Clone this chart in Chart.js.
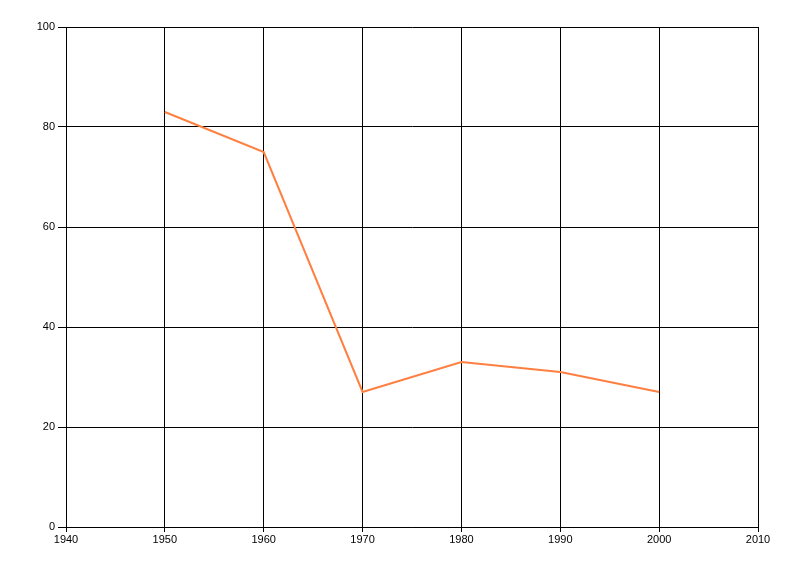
<!DOCTYPE html>
<html>
<head>
<meta charset="utf-8">
<script src="https://cdn.jsdelivr.net/npm/chart.js@4/dist/chart.umd.min.js"></script>
<style>
  html, body { margin: 0; padding: 0; background: #fff; }
  #wrap { width: 800px; height: 576px; }
</style>
</head>
<body>
<div id="wrap"><canvas id="chart" width="800" height="576"></canvas></div>
<script>
const years = [1950, 1960, 1970, 1980, 1990, 2000];
const values = [83, 75, 27, 33, 31, 27];
const xTicks = [1940, 1950, 1960, 1970, 1980, 1990, 2000, 2010];
const yTicks = [0, 20, 40, 60, 80, 100];

const points = years.map((y, i) => ({ x: y, y: values[i] }));

const tickFont = { family: "'Liberation Sans', Arial, sans-serif", size: 11 };

new Chart(document.getElementById("chart").getContext("2d"), {
  type: "line",
  data: {
    datasets: [{
      data: points,
      borderColor: "#ff7f40",
      borderWidth: 2,
      pointRadius: 0,
      tension: 0,
      fill: false
    }]
  },
  options: {
    responsive: false,
    animation: false,
    layout: { padding: { top: 27, right: 42, left: 0, bottom: 0 } },
    plugins: { legend: { display: false }, tooltip: { enabled: false } },
    scales: {
      x: {
        type: "linear",
        min: xTicks[0],
        max: xTicks[xTicks.length - 1],
        afterBuildTicks: axis => { axis.ticks = xTicks.map(v => ({ value: v })); },
        afterFit: axis => { axis.height = 49; },
        ticks: { color: "#000", font: tickFont, padding: 1, maxRotation: 0, callback: v => String(v) },
        grid: { color: "#000", lineWidth: 1, tickLength: 5 },
        border: { color: "#000", width: 1 }
      },
      y: {
        min: 0,
        max: 100,
        afterBuildTicks: axis => { axis.ticks = yTicks.map(v => ({ value: v })); },
        afterFit: axis => { axis.width = 66; },
        ticks: { color: "#000", font: tickFont, padding: 3 },
        grid: { color: "#000", lineWidth: 1, tickLength: 8 },
        border: { color: "#000", width: 1 }
      }
    }
  }
});
</script>
</body>
</html>
